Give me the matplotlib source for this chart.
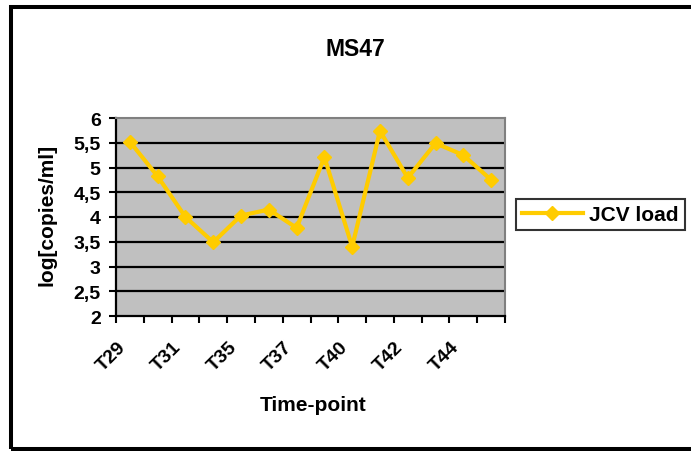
import matplotlib
matplotlib.use("Agg")
import matplotlib.pyplot as plt
from matplotlib.patches import Rectangle
import matplotlib.transforms as mtransforms
import numpy as np

# --- данные ---
TITLE = "MS47"
SERIES_NAME = "JCV load"
LOAD = [5.52, 4.82, 4.0, 3.49, 4.03, 4.15, 3.78, 5.21, 3.40, 5.74, 4.79, 5.49, 5.25, 4.75]
TICK_POS = [0, 2, 4, 6, 8, 10, 12]
TICK_LABELS = ["T29", "T31", "T35", "T37", "T40", "T42", "T44"]
Y_TICKS = [2, 2.5, 3, 3.5, 4, 4.5, 5, 5.5, 6]

plt.rcParams["font.family"] = ["Liberation Sans", "DejaVu Sans"]
plt.rcParams["font.weight"] = "bold"

W, H = 691, 452
fig = plt.figure(figsize=(W / 100, H / 100), dpi=100)

# рамка вокруг всей диаграммы (правый край обрезан)
fig.patches.append(Rectangle((11 / W, 1 - 450 / H), 1.05 - 11 / W, (450 - 8) / H,
                             transform=fig.transFigure, fill=False,
                             edgecolor="black", linewidth=2.9, clip_on=False))

ax = fig.add_axes([116 / W, 1 - 317 / H, (505 - 116) / W, (317 - 119) / H])
ax.set_facecolor("#C0C0C0")

n = len(LOAD)
x = np.arange(n) + 0.5
ax.plot(x, LOAD, color="#FFCC00", linewidth=3.0, marker="D", markersize=7.5,
        markeredgecolor="#FFCC00", label=SERIES_NAME, zorder=3)

ax.set_xlim(0, n)
ax.set_ylim(2, 6)
ax.set_yticks(Y_TICKS)
ax.set_yticklabels([f"{v:g}".replace(".", ",") for v in Y_TICKS], fontsize=14, fontweight="bold")
for v in Y_TICKS[1:-1]:
    ax.axhline(v, color="black", linewidth=1.6, zorder=2)

# деления оси X на границах категорий, подписи — через одну
ax.set_xticks(np.arange(n + 1))
ax.set_xticklabels([])
ax.tick_params(axis="x", length=5, width=1.5, direction="out")
ax.tick_params(axis="y", length=5, width=1.5, direction="out", pad=6)
for pos, lab in zip(TICK_POS, TICK_LABELS):
    off = mtransforms.ScaledTranslation(-0.07, -0.28, fig.dpi_scale_trans)
    ax.text(pos + 0.5, 0, lab, transform=ax.get_xaxis_transform() + off,
            rotation=45, ha="right", va="center", rotation_mode="anchor",
            fontsize=14, fontweight="bold")

for s in ("left", "bottom"):
    ax.spines[s].set_color("black")
    ax.spines[s].set_linewidth(1.6)
for s in ("top", "right"):
    ax.spines[s].set_color("#808080")
    ax.spines[s].set_linewidth(1.5)

fig.text(355 / W, 1 - 50 / H, TITLE, ha="center", va="center", fontsize=16.5, fontweight="bold")
fig.text(313 / W, 1 - 406 / H, "Time-point", ha="center", va="center", fontsize=15, fontweight="bold")
fig.text(47 / W, 1 - 215 / H, "log[copies/ml]", ha="center", va="center", rotation=90,
         fontsize=15, fontweight="bold")

leg = fig.legend(loc="center left", bbox_to_anchor=(516 / W, 1 - 215.5 / H), frameon=True,
                 fancybox=False, edgecolor="black", fontsize=15, handlelength=2.9,
                 borderpad=0.3, handletextpad=0.3, borderaxespad=0)
leg.get_frame().set_linewidth(1.5)

fig.savefig("out.png", dpi=100)
